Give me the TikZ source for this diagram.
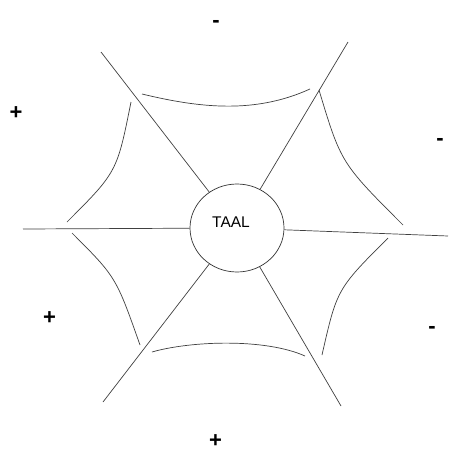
\documentclass[tikz,border=0pt]{standalone}
\usepackage{fontspec}
\setmainfont{Liberation Sans}
\usepackage{tikz}
\usetikzlibrary{shapes.geometric}

\begin{document}
\begin{tikzpicture}[
	x=1pt, y=-1pt,
	line/.style={line width=0.7pt, black!75},
	hub/.style={draw, line width=0.7pt, black!80, ellipse, inner sep=0pt, minimum width=94pt, minimum height=88pt},
	hubtext/.style={inner sep=0pt, font=\fontsize{15.5}{18}\selectfont},
	sign/.style={inner sep=0pt, font=\fontsize{22}{26}\selectfont\bfseries}
]
\path[use as bounding box, fill=white] (0,0) rectangle (448,453);

\node[hub] (taal) at (237,228) {};
\node[hubtext] (name) at (231,222.5) {TAAL};

% spoke ends
\coordinate (ulend) at (101,52);
\coordinate (urend) at (348,42);
\coordinate (lend) at (23,229);
\coordinate (rend) at (448,236);
\coordinate (llend) at (103,402);
\coordinate (lrend) at (341,406);

\draw[line] (taal) -- (ulend);
\draw[line] (taal) -- (urend);
\draw[line] (taal) -- (lend);
\draw[line] (taal) -- (rend);
\draw[line] (taal) -- (llend);
\draw[line] (taal) -- (lrend);

% web
\draw[line] (142,94) .. controls (200,108) and (255,114) .. (310,89);
\draw[line] (131,102) .. controls (117,172) .. (67,222);
\draw[line] (319,90) .. controls (341,163) .. (403,225);
\draw[line] (72,233) .. controls (116,277) .. (140,345);
\draw[line] (388,238) .. controls (337,289) .. (322,355);
\draw[line] (152,352) .. controls (190,341) and (265,338) .. (305,356);

% signs
\node[sign] (mtop) at (216,24) {-};
\node[sign] (pul) at (16,113) {+};
\node[sign] (mur) at (440,142) {-};
\node[sign] (pll) at (49.5,318) {+};
\node[sign] (mlr) at (432,330) {-};
\node[sign] (pbot) at (215.5,441) {+};
\end{tikzpicture}
\end{document}
